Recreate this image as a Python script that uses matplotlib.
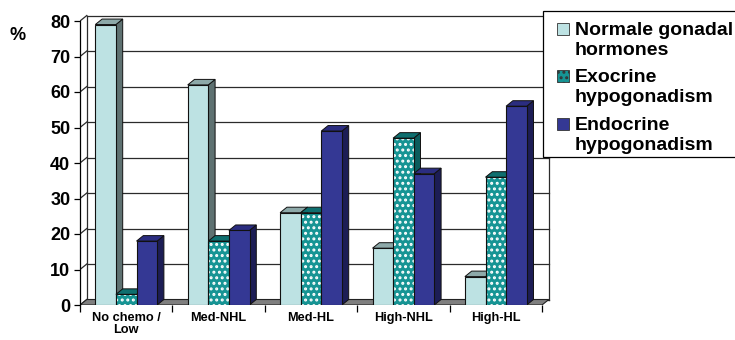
import numpy as np
import matplotlib.pyplot as plt
from matplotlib.patches import Polygon, Rectangle

plt.rcParams['font.family'] = ['Liberation Sans', 'DejaVu Sans']
plt.rcParams['hatch.linewidth'] = 1.4

# data
categories = ['No chemo /\nLow', 'Med-NHL', 'Med-HL', 'High-NHL', 'High-HL']
series_names = ['Normale gonadal\nhormones', 'Exocrine\nhypogonadism', 'Endocrine\nhypogonadism']
normal = [79, 62, 26, 16, 8]
exocrine = [3, 18, 26, 47, 36]
endocrine = [18, 21, 49, 37, 56]
yticks = [0, 10, 20, 30, 40, 50, 60, 70, 80]

# colours: front, side, top
styles = [
    dict(front='#BDE2E3', side='#5E7171', top='#8DA9A9', hatch=None),
    dict(front='#169494', side='#0B5C5C', top='#0E6F6F', hatch='...'),
    dict(front='#343894', side='#1C1D55', top='#2B2D80', hatch=None),
]

fig = plt.figure(figsize=(7.35, 3.4), dpi=100)
W, H = 735, 340
# axes placed so x=0 -> px 80, x=5 -> px 542, y=0 -> px 305, y=80 -> px 21
sx = 92.4
sy = 3.55
left_px, right_px, bot_px, top_px = 80, 560, 305, 8
ax = fig.add_axes([left_px / W, 1 - bot_px / H, (right_px - left_px) / W, (bot_px - top_px) / H])
ax.set_xlim(0, (right_px - left_px) / sx)
ax.set_ylim(0, (bot_px - top_px) / sy)

dx = 6.8 / sx
dy = 5.5 / sy
ncat = len(categories)

# back wall and side wall grid
for v in yticks:
    ax.plot([dx, ncat + dx], [v + dy, v + dy], color='#2b2b2b', lw=0.9, zorder=1)
    ax.plot([0, dx], [v, v + dy], color='#2b2b2b', lw=0.9, zorder=1)
ax.plot([dx, dx], [dy, yticks[-1] + dy], color='#2b2b2b', lw=0.9, zorder=1)
ax.plot([ncat + dx, ncat + dx], [dy, yticks[-1] + dy], color='#2b2b2b', lw=0.9, zorder=1)

# floor
floor = Polygon([(0, 0), (ncat, 0), (ncat + dx, dy), (dx, dy)], closed=True,
                facecolor='#7f7f7f', edgecolor='#222222', lw=0.8, zorder=2)
ax.add_patch(floor)

bw = 20.6 / sx
x = np.arange(ncat)
lefts = [0.5 - 1.5 * bw, 0.5 - 0.5 * bw, 0.5 + 0.5 * bw]
values = [normal, exocrine, endocrine]

z = 3
for i in range(ncat):
    for k in range(3):
        st = styles[k]
        x0 = x[i] + lefts[k]
        h = values[k][i]
        side = Polygon([(x0 + bw, 0), (x0 + bw + dx, dy), (x0 + bw + dx, h + dy), (x0 + bw, h)],
                       closed=True, facecolor=st['side'], edgecolor='#111111', lw=0.7, zorder=z)
        top = Polygon([(x0, h), (x0 + bw, h), (x0 + bw + dx, h + dy), (x0 + dx, h + dy)],
                      closed=True, facecolor=st['top'], edgecolor='#111111', lw=0.7, zorder=z)
        ax.add_patch(side)
        ax.add_patch(top)
        if st['hatch']:
            ax.bar(x0, h, width=bw, align='edge', color=st['front'], hatch=st['hatch'],
                   edgecolor='white', linewidth=0, zorder=z + 0.1)
            ax.bar(x0, h, width=bw, align='edge', fill=False, edgecolor='#111111',
                   linewidth=0.8, zorder=z + 0.2)
        else:
            ax.bar(x0, h, width=bw, align='edge', color=st['front'], edgecolor='#111111',
                   linewidth=0.8, zorder=z + 0.1)
        z += 1

# axes decoration
for s in ['top', 'right', 'bottom']:
    ax.spines[s].set_visible(False)
ax.spines['left'].set_bounds(0, yticks[-1])
ax.spines['left'].set_linewidth(0.9)
ax.set_yticks(yticks)
ax.set_yticklabels([str(v) for v in yticks], fontsize=13, fontweight='bold')
ax.tick_params(axis='y', direction='out', length=4, width=0.9, pad=3)
ax.set_xticks(x + 0.5)
ax.set_xticklabels(categories, fontsize=9.2, fontweight='bold', linespacing=1.0)
ax.set_xticks(np.arange(ncat + 1), minor=True)
ax.tick_params(axis='x', which='major', length=0, pad=5)
ax.tick_params(axis='x', which='minor', direction='out', length=5, width=0.9)

fig.text(10 / W, 1 - 36 / H, '%', fontsize=13, fontweight='bold', va='center', ha='left')

# legend box drawn by hand so the swatches sit on the first text line
fig.patches.append(Rectangle((543 / W, 1 - 157 / H), 200 / W, 146 / H, transform=fig.transFigure,
                             facecolor='white', edgecolor='black', lw=0.9, zorder=40))
first_base = [35, 82, 130]
for k, (name, st) in enumerate(zip(series_names, styles)):
    yb = first_base[k]
    fig.patches.append(Rectangle((557 / W, 1 - (yb) / H), 12 / W, 12 / H,
                                 transform=fig.transFigure, facecolor=st['front'],
                                 edgecolor='#333333', lw=0.6, hatch=st['hatch'], zorder=41))
    for j, line in enumerate(name.split('\n')):
        fig.text(575 / W, 1 - (yb + 20 * j) / H, line, fontsize=14, fontweight='bold',
                 va='baseline', ha='left', zorder=42)

fig.savefig('out.png', dpi=100)
